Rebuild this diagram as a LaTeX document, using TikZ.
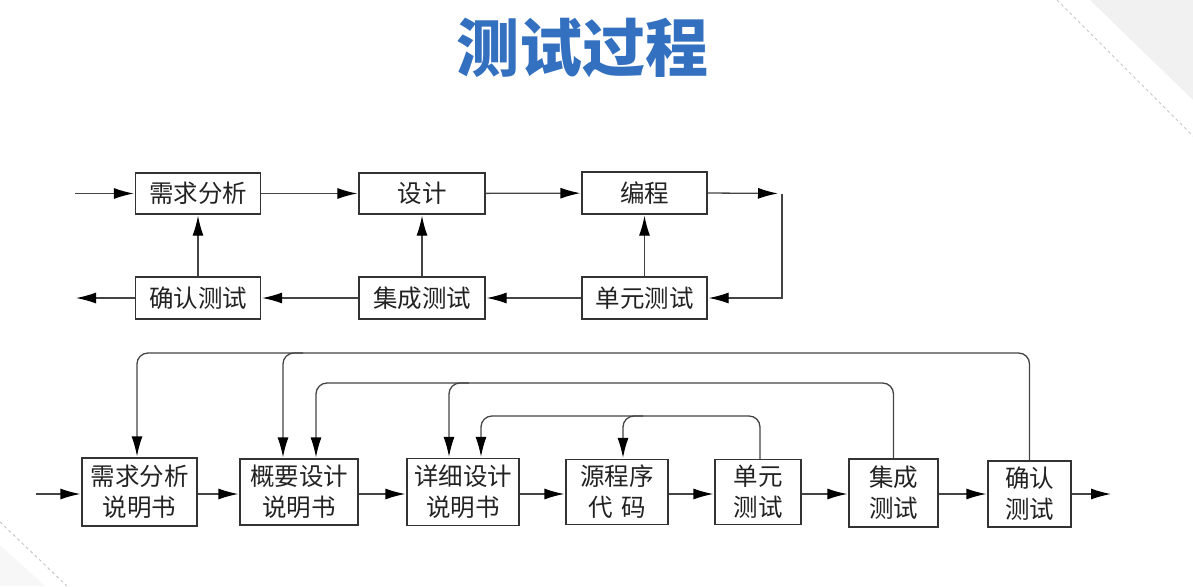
\documentclass[tikz,border=0pt]{standalone}
\usepackage{fontspec}
\usetikzlibrary{arrows.meta,calc}
\newfontfamily\cjk{Noto Sans CJK SC}
\definecolor{boxc}{HTML}{333333}
\definecolor{linec}{HTML}{444444}
\definecolor{txt}{HTML}{222222}
\definecolor{ttl}{HTML}{3370BF}
\definecolor{decofill}{HTML}{F1F1F1}
\definecolor{decoline}{HTML}{C8C8C8}
\tikzset{
  bx/.style={draw=boxc, line width=1.3pt, inner sep=0pt, align=center, text=txt,
    font=\cjk\fontsize{24.5}{31}\selectfont},
  tipshape/.tip={Latex[length=20pt,width=11pt,color=black]},
  arr/.style={draw=linec, line width=1.3pt, -tipshape, shorten >=1pt},
}
\begin{document}
\begin{tikzpicture}[x=1pt,y=-1pt]
\useasboundingbox (0,0) rectangle (1193,586);
% background decoration
\fill[decofill] (1090,0) -- (1193,0) -- (1193,100) -- cycle;
\draw[draw=decoline, dashed, line width=1pt] (1057,0) -- (1193,136);
\fill[decofill!60!white] (0,545) -- (0,586) -- (45,586) -- cycle;
\draw[draw=decoline, dashed, line width=1pt] (0,522) -- (67,586);
% title
\node[font=\cjk\bfseries\fontsize{63}{70}\selectfont, text=ttl] (title) at (582,48) {测试过程};

% top diagram
\node[bx, minimum width=125pt, minimum height=41pt] (t1) at (198,193.5) {需求分析};
\node[bx, minimum width=126pt, minimum height=41pt] (t2) at (422,193.5) {设计};
\node[bx, minimum width=125pt, minimum height=42pt] (t3) at (644.5,193) {编程};
\node[bx, minimum width=125pt, minimum height=42pt] (t4) at (198,298) {确认测试};
\node[bx, minimum width=126pt, minimum height=42pt] (t5) at (422,298) {集成测试};
\node[bx, minimum width=125pt, minimum height=42pt] (t6) at (644.5,298) {单元测试};
\coordinate (tin) at (75,193.5);
\coordinate (tout) at (75,298);
\coordinate (tR) at (782,193.5);

\draw[arr] (tin) -- (t1);
\draw[arr] (t1) -- (t2);
\draw[arr] (t2) -- (t3);
\draw[arr, shorten >=4pt] (t3.east) -- (tR);
\draw[arr] (tR) |- (t6.east);
\draw[arr] (t6) -- (t5);
\draw[arr] (t5) -- (t4);
\draw[arr] (t4) -- (tout);
\draw[arr] (t4) -- (t1);
\draw[arr] (t5) -- (t2);
\draw[arr] (t6) -- (t3);

% bottom diagram
\node[bx, minimum width=115pt, minimum height=68pt] (b1) at (139.5,492) {需求分析\\说明书};
\node[bx, minimum width=118pt, minimum height=66pt] (b2) at (299,492) {概要设计\\说明书};
\node[bx, minimum width=112pt, minimum height=67pt] (b3) at (463,492) {详细设计\\说明书};
\node[bx, minimum width=102pt, minimum height=65pt] (b4) at (617,492) {源程序\\代\,\,码};
\node[bx, minimum width=86pt, minimum height=65pt] (b5) at (758,492) {单元\\测试};
\node[bx, minimum width=89pt, minimum height=68pt] (b6) at (893.5,493) {集成\\测试};
\node[bx, minimum width=83pt, minimum height=66pt] (b7) at (1029.5,494) {确认\\测试};
\coordinate (bin) at (36,494);
\coordinate (bout) at (1112,494);
\coordinate (L1) at (0,353);
\coordinate (L2) at (0,383);
\coordinate (L3) at (0,416);

\draw[arr] (bin) -- (b1.west |- bin);
\draw[arr] (b1.east |- bin) -- (b2.west |- bin);
\draw[arr] (b2.east |- bin) -- (b3.west |- bin);
\draw[arr] (b3.east |- bin) -- (b4.west |- bin);
\draw[arr] (b4.east |- bin) -- (b5.west |- bin);
\draw[arr] (b5.east |- bin) -- (b6.west |- bin);
\draw[arr] (b6.east |- bin) -- (b7.west |- bin);
\draw[arr] (b7.east |- bin) -- (bout);

% feedback loop 1 (acceptance test)
\draw[arr, rounded corners=11pt] (b7.north) |- ([xshift=-2.5pt]b1.north |- L1) -- ([xshift=-2.5pt]b1.north);
\draw[arr, rounded corners=11pt] ($([xshift=-16pt]b2.north |- L1)+(20,0)$) -| ([xshift=-16pt]b2.north);
% feedback loop 2 (integration test)
\draw[arr, rounded corners=11pt] (b6.north) |- ([xshift=17pt]b2.north |- L2) -- ([xshift=17pt]b2.north);
\draw[arr, rounded corners=11pt] ($([xshift=-14pt]b3.north |- L2)+(20,0)$) -| ([xshift=-14pt]b3.north);
% feedback loop 3 (unit test)
\draw[arr, rounded corners=11pt] ([xshift=2pt]b5.north) |- ([xshift=18pt]b3.north |- L3) -- ([xshift=18pt]b3.north);
\draw[arr, rounded corners=11pt] ($([xshift=6pt]b4.north |- L3)+(20,0)$) -| ([xshift=6pt]b4.north);
\end{tikzpicture}
\end{document}
